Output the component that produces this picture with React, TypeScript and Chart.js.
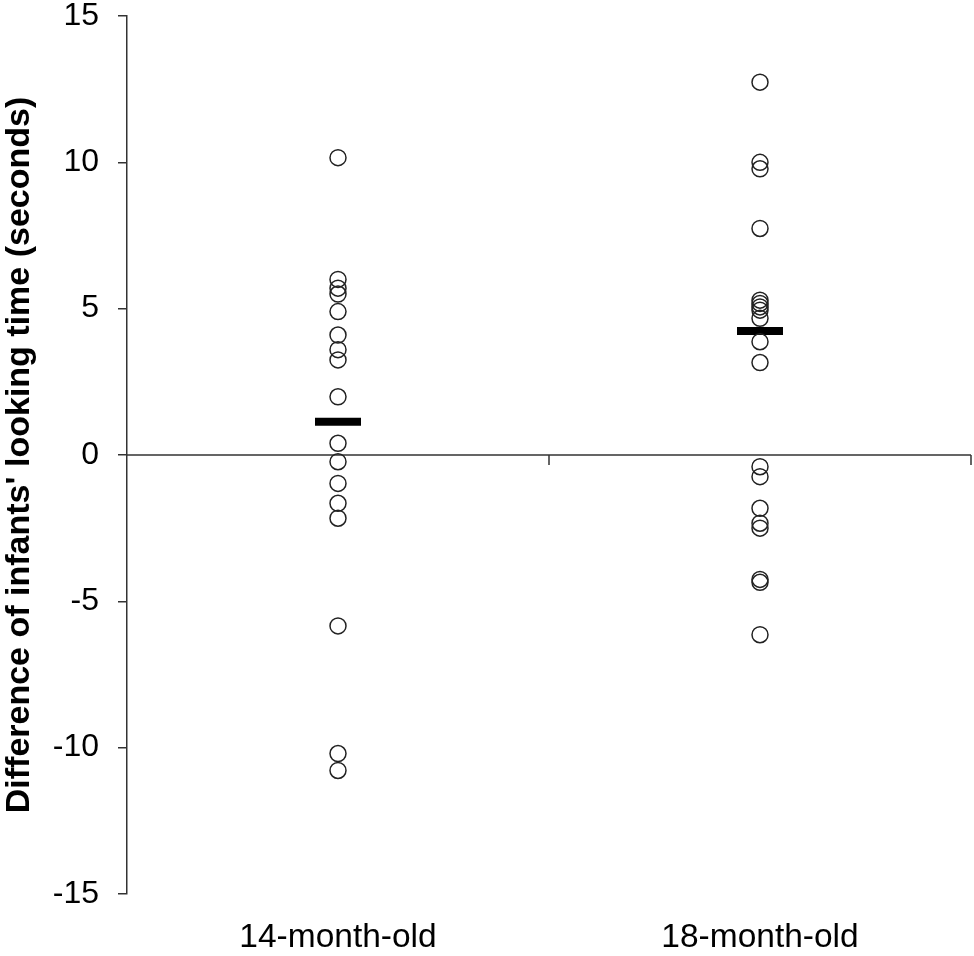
import React, { useEffect, useRef } from "react";
import { Chart, registerables } from "chart.js";

Chart.register(...registerables);

const groups = ["14-month-old", "18-month-old"];

// individual infants (seconds)
const olds14 = [
  10.16, 6.0, 5.7, 5.5, 4.9, 4.1, 3.6, 3.25, 1.99, 0.4, -0.23, -0.97, -1.65,
  -2.16, -5.84, -10.2, -10.78,
];
const olds18 = [
  12.74, 10.0, 9.78, 7.74, 5.29, 5.18, 5.06, 4.95, 4.67, 3.87, 3.16, -0.4,
  -0.74, -1.82, -2.33, -2.5, -4.25, -4.35, -6.14,
];
// group means (black bars)
const means = [1.14, 4.24];

const yTicks = [-15, -10, -5, 0, 5, 10, 15];

const FONT = "'Liberation Sans', Arial, sans-serif";
const AXIS = "#333";

// horizontal line at y = 0 with ticks at category boundaries
const zeroLine = {
  id: "zeroLine",
  beforeDatasetsDraw(chart) {
    const { ctx, chartArea, scales } = chart;
    const y0 = scales.y.getPixelForValue(0);
    const n = scales.x.ticks.length;
    ctx.save();
    ctx.strokeStyle = AXIS;
    ctx.lineWidth = 1.5;
    ctx.beginPath();
    ctx.moveTo(chartArea.left, y0);
    ctx.lineTo(chartArea.right, y0);
    for (let i = 0; i < n; i++) {
      const x =
        i < n - 1
          ? (scales.x.getPixelForTick(i) + scales.x.getPixelForTick(i + 1)) / 2
          : chartArea.right;
      ctx.moveTo(x, y0);
      ctx.lineTo(x, y0 + 10);
    }
    ctx.stroke();
    ctx.restore();
  },
};

const LookingTime = () => {
  const chartRef = useRef(null);
  const chartInstance = useRef(null);

  useEffect(() => {
    const config = {
      type: "scatter",
      data: {
        labels: groups,
        datasets: [
          {
            label: groups[0],
            data: olds14.map((v) => ({ x: groups[0], y: v })),
            pointRadius: 8,
            pointBorderWidth: 1.5,
            borderColor: "#222",
            backgroundColor: "rgba(0,0,0,0)",
          },
          {
            label: groups[1],
            data: olds18.map((v) => ({ x: groups[1], y: v })),
            pointRadius: 8,
            pointBorderWidth: 1.5,
            borderColor: "#222",
            backgroundColor: "rgba(0,0,0,0)",
          },
          {
            label: "mean",
            data: means.map((v, i) => ({ x: groups[i], y: v })),
            pointStyle: "line",
            pointRadius: 23,
            pointBorderWidth: 8,
            borderColor: "#000",
          },
        ],
      },
      options: {
        responsive: true,
        maintainAspectRatio: false,
        animation: false,
        layout: {
          autoPadding: false,
          padding: { top: 16, right: 3, left: 0, bottom: 0 },
        },
        plugins: {
          legend: { display: false },
          tooltip: { enabled: false },
        },
        scales: {
          x: {
            type: "category",
            labels: groups,
            offset: true,
            grid: { display: false, drawTicks: false },
            border: { display: false },
            ticks: {
              padding: 24,
              color: "#000",
              font: { family: FONT, size: 33.5 },
            },
            afterFit: (s) => {
              s.height = 62;
              s.paddingLeft = 0;
              s.paddingRight = 0;
            },
          },
          y: {
            min: -15,
            max: 15,
            afterBuildTicks: (s) => {
              s.ticks = yTicks.map((v) => ({ value: v }));
            },
            grid: {
              drawOnChartArea: false,
              drawTicks: true,
              tickLength: 9,
              color: AXIS,
              lineWidth: 1.5,
            },
            border: { display: true, color: AXIS, width: 1.5 },
            ticks: {
              padding: 19,
              color: "#000",
              font: { family: FONT, size: 32, lineHeight: 1 },
            },
            title: {
              display: true,
              text: "Difference of infants' looking time (seconds)",
              color: "#000",
              font: { family: FONT, size: 34, weight: "bold", lineHeight: 1.1 },
              padding: { top: 1, bottom: 0 },
            },
            afterFit: (s) => {
              s.width = 127;
              s.paddingTop = 0;
              s.paddingBottom = 0;
            },
          },
        },
      },
      plugins: [zeroLine],
    };

    if (chartInstance.current) {
      chartInstance.current.destroy();
    }
    if (chartRef.current) {
      chartInstance.current = new Chart(chartRef.current, config);
    }
    return () => {
      if (chartInstance.current) {
        chartInstance.current.destroy();
      }
    };
  }, []);

  return (
    <div
      style={{
        position: "absolute",
        left: 0,
        top: 0,
        width: 974,
        height: 956,
        background: "#fff",
      }}
    >
      <canvas ref={chartRef}></canvas>
    </div>
  );
};

export default function App() {
  return <LookingTime />;
}
